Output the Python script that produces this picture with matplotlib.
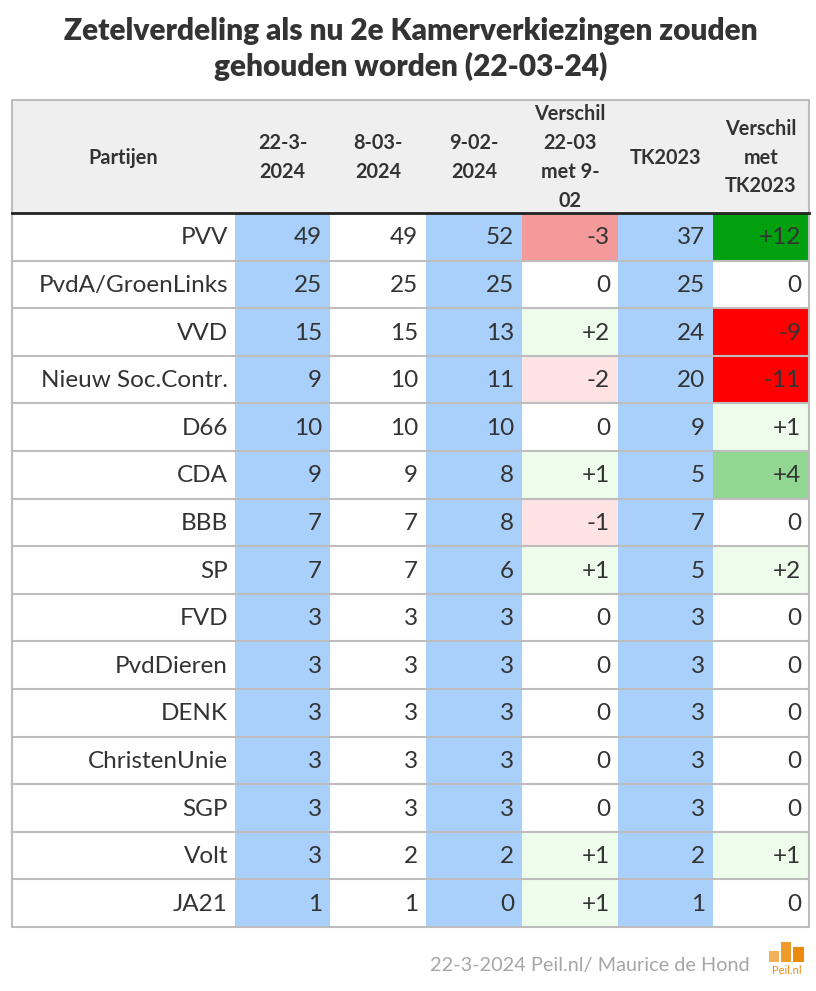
import matplotlib.pyplot as plt
from matplotlib.patches import Rectangle

plt.rcParams['font.family'] = ['Lato', 'DejaVu Sans']

# data
title = "Zetelverdeling als nu 2e Kamerverkiezingen zouden\ngehouden worden (22-03-24)"
headers = ["Partijen", "22-3-\n2024", "8-03-\n2024", "9-02-\n2024",
           "Verschil\n22-03\nmet 9-\n02", "TK2023", "Verschil\nmet\nTK2023"]
partijen = ["PVV", "PvdA/GroenLinks", "VVD", "Nieuw Soc.Contr.", "D66", "CDA",
            "BBB", "SP", "FVD", "PvdDieren", "DENK", "ChristenUnie", "SGP",
            "Volt", "JA21"]
zetels_22_03 = [49, 25, 15, 9, 10, 9, 7, 7, 3, 3, 3, 3, 3, 3, 1]
zetels_08_03 = [49, 25, 15, 10, 10, 9, 7, 7, 3, 3, 3, 3, 3, 2, 1]
zetels_09_02 = [52, 25, 13, 11, 10, 8, 8, 6, 3, 3, 3, 3, 3, 2, 0]
verschil_09_02 = [-3, 0, 2, -2, 0, 1, -1, 1, 0, 0, 0, 0, 0, 1, 1]
tk2023 = [37, 25, 24, 20, 9, 5, 7, 5, 3, 3, 3, 3, 3, 2, 1]
verschil_tk = [12, 0, -9, -11, 1, 4, 0, 2, 0, 0, 0, 0, 0, 1, 0]
bron = "22-3-2024 Peil.nl/ Maurice de Hond"

BLUE = '#a9d0fb'
TXT = '#333333'
GRID = '#bdbdbd'


def diff_color(v):
    if v >= 10:
        return '#00a00f'
    if v >= 3:
        return '#92d693'
    if v > 0:
        return '#eefcec'
    if v == 0:
        return 'white'
    if v <= -5:
        return '#ff0000'
    if v <= -3:
        return '#f59a9b'
    return '#fde3e3'


def fmt(v):
    return f"+{v}" if v > 0 else str(v)


fig = plt.figure(figsize=(8.16, 9.91), dpi=100)
ax = fig.add_axes([0, 0, 1, 1])
ax.set_xlim(0, 816)
ax.set_ylim(991, 0)
ax.axis('off')

ax.text(411, 49, title, ha='center', va='center', fontsize=21.5,
        fontweight='heavy', color=TXT, linespacing=1.3)

# table geometry
x_edges = [12, 235, 330, 426, 522, 618, 713, 809]
y_top, y_head = 100, 213
row_h = (927 - y_head) / len(partijen)

# header
ax.add_patch(Rectangle((x_edges[0], y_top), x_edges[-1] - x_edges[0],
                       y_head - y_top, facecolor='#efefef', edgecolor='none'))
for j, h in enumerate(headers):
    xc = (x_edges[j] + x_edges[j + 1]) / 2
    ax.text(xc, (y_top + y_head) / 2 + 1, h, ha='center', va='center',
            fontsize=14.3, fontweight='bold', color=TXT, linespacing=1.55)

cols = [zetels_22_03, zetels_08_03, zetels_09_02, verschil_09_02, tk2023, verschil_tk]
for i, partij in enumerate(partijen):
    y0 = y_head + i * row_h
    yc = y0 + row_h / 2 + 1
    ax.text(x_edges[1] - 7, yc, partij, ha='right', va='center',
            fontsize=17.5, color=TXT)
    for j, col in enumerate(cols):
        v = col[i]
        if j in (0, 2, 4):
            fc = BLUE
        elif j == 1:
            fc = 'white'
        else:
            fc = diff_color(v)
        ax.add_patch(Rectangle((x_edges[j + 1], y0), x_edges[j + 2] - x_edges[j + 1],
                               row_h, facecolor=fc, edgecolor='none'))
        label = fmt(v) if j in (3, 5) else str(v)
        ax.text(x_edges[j + 2] - 8, yc, label, ha='right', va='center',
                fontsize=17.5, color=TXT)
    if i > 0:
        ax.plot([x_edges[0], x_edges[-1]], [y0, y0], color=GRID, lw=1.5)

y_bot = y_head + len(partijen) * row_h
ax.plot([x_edges[0], x_edges[-1]], [y_head, y_head], color='#222222', lw=2)
ax.add_patch(Rectangle((x_edges[0], y_top), x_edges[-1] - x_edges[0],
                       y_bot - y_top, facecolor='none', edgecolor=GRID, lw=1.5))

# footer
ax.text(750, 965, bron, ha='right', va='center', fontsize=14.3, color='#a6a6a6')
ax.add_patch(Rectangle((769, 951), 10, 11, facecolor='#f2b05a', edgecolor='none'))
ax.add_patch(Rectangle((781, 942), 10, 20, facecolor='#f09a2a', edgecolor='none'))
ax.add_patch(Rectangle((793, 947), 11, 15, facecolor='#ec8a10', edgecolor='none'))
ax.text(787, 971, "Peil.nl", ha='center', va='center', fontsize=8, color='#ec8a10')

fig.savefig('out.png', dpi=100)
